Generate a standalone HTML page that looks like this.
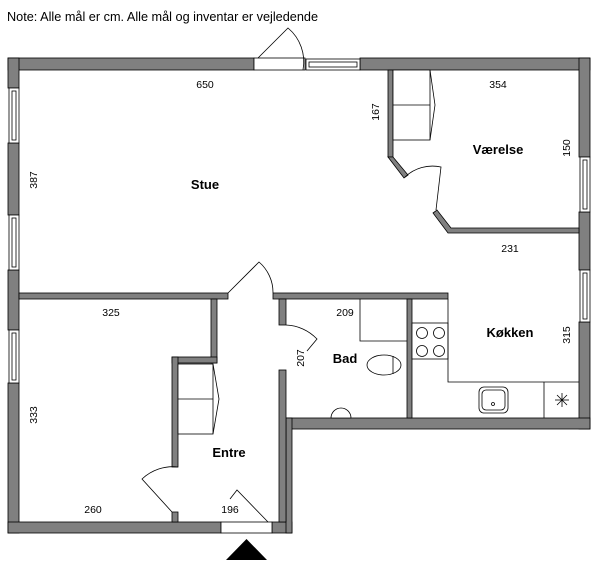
<!DOCTYPE html>
<html><head><meta charset="utf-8"><style>
html,body{margin:0;padding:0;background:#fff;}
svg{display:block;}
text{font-family:"Liberation Sans",sans-serif;fill:#000;}
.n{font-size:10.5px;text-anchor:middle;}
.l{font-size:13px;font-weight:bold;text-anchor:middle;}
</style></head><body>
<svg width="600" height="570" viewBox="0 0 600 570" xmlns="http://www.w3.org/2000/svg">
<text x="7" y="21" style="font-size:12.7px">Note: Alle mål er cm. Alle mål og inventar er vejledende</text>
<g fill="#808080" stroke="#000" stroke-width="0.8">
<rect x="8" y="58" width="246" height="12"/>
<rect x="360" y="58" width="230" height="12"/>
<rect x="8" y="58" width="11" height="30"/>
<rect x="8" y="143" width="11" height="72"/>
<rect x="8" y="270" width="11" height="60"/>
<rect x="8" y="383" width="11" height="150"/>
<rect x="579" y="58" width="11" height="99"/>
<rect x="579" y="212" width="11" height="58"/>
<rect x="579" y="322" width="11" height="107"/>
<rect x="8" y="522" width="213" height="11"/>
<rect x="272" y="522" width="20" height="11"/>
<rect x="286" y="418" width="304" height="11"/>
<rect x="286" y="418" width="6" height="115"/>
<rect x="388" y="70" width="5" height="87"/>
<polygon points="388,157 393,157 408,175 404,178"/>
<polygon points="433,213 437,210 451,228 579,228 579,233 448,233"/>
<rect x="19" y="293" width="209" height="6"/>
<rect x="273" y="293" width="175" height="6"/>
<rect x="211" y="299" width="6" height="64"/>
<rect x="172" y="357" width="45" height="6"/>
<rect x="172" y="357" width="6" height="110"/>
<rect x="172" y="512" width="6" height="10"/>
<rect x="279" y="299" width="7" height="26"/>
<rect x="279" y="370" width="7" height="152"/>
<rect x="407" y="299" width="5" height="119"/>
</g>
<g fill="#fff" stroke="#000" stroke-width="0.8">
<rect x="306" y="59" width="54" height="11"/><rect x="309" y="62" width="48" height="5"/>
<rect x="9" y="88" width="10" height="55"/><rect x="12" y="91" width="4" height="49"/>
<rect x="9" y="215" width="10" height="55"/><rect x="12" y="218" width="4" height="49"/>
<rect x="9" y="330" width="10" height="53"/><rect x="12" y="333" width="4" height="47"/>
<rect x="580" y="157" width="10" height="55"/><rect x="583" y="160" width="4" height="49"/>
<rect x="580" y="270" width="10" height="52"/><rect x="583" y="273" width="4" height="46"/>
<rect x="254" y="58" width="51" height="12"/>
<rect x="221" y="522" width="51" height="11"/>
<rect x="393" y="70" width="37" height="70"/><line x1="393" y1="105" x2="430" y2="105"/>
<polyline points="430,70 435,105 430,140" fill="none"/>
<rect x="178" y="364" width="35" height="70"/><line x1="178" y1="399" x2="213" y2="399"/>
<polyline points="213,364 219,399 213,434" fill="none"/>
<polyline points="360,299 360,341 407,341" fill="none"/>
<rect x="412" y="323" width="36" height="36"/>
<polyline points="448,299 448,382 579,382" fill="none"/>
<line x1="544" y1="382" x2="544" y2="418"/>
<circle cx="422" cy="333" r="5.5"/><circle cx="439" cy="333" r="5.5"/>
<circle cx="422" cy="351" r="5.5"/><circle cx="439" cy="351" r="5.5"/>
<rect x="479" y="387" width="29" height="26" rx="5"/><rect x="482" y="390" width="23" height="20" rx="4"/>
<circle cx="493" cy="404" r="1.5"/>
<ellipse cx="384" cy="365" rx="17" ry="10"/><line x1="393" y1="356" x2="393" y2="374"/>
<path d="M331,418 a10,10 0 1,1 20,0 z"/>
</g>
<g fill="none" stroke="#000" stroke-width="0.8">
<path d="M258,58 L288,28 A44,44 0 0 1 303,70"/>
<path d="M228,293 L259,262 A40,40 0 0 1 273,293"/>
<path d="M286,325 A45,45 0 0 1 317,339 L307,351"/>
<path d="M405,177 A40,40 0 0 1 441,167 L436,210"/>
<path d="M178,467 A45,45 0 0 0 142,479 L172,512"/>
<path d="M268,522 L237,490 L230,499"/>
<line x1="555" y1="400" x2="569" y2="400"/><line x1="562" y1="393" x2="562" y2="407"/>
<line x1="557" y1="395" x2="567" y2="405"/><line x1="567" y1="395" x2="557" y2="405"/>
</g>
<polygon points="226,560 267,560 246.5,539" fill="#000"/>
<text class="n" x="205" y="88">650</text>
<text class="n" x="498" y="88">354</text>
<text class="n" x="510" y="252">231</text>
<text class="n" x="111" y="316">325</text>
<text class="n" x="345" y="316">209</text>
<text class="n" x="93" y="513">260</text>
<text class="n" x="230" y="513">196</text>
<text class="n" transform="translate(379,112) rotate(-90)">167</text>
<text class="n" transform="translate(570,148) rotate(-90)">150</text>
<text class="n" transform="translate(37,180) rotate(-90)">387</text>
<text class="n" transform="translate(570,335) rotate(-90)">315</text>
<text class="n" transform="translate(304,358) rotate(-90)">207</text>
<text class="n" transform="translate(37,415) rotate(-90)">333</text>
<text class="l" x="205" y="189">Stue</text>
<text class="l" x="498" y="154">Værelse</text>
<text class="l" x="510" y="337">Køkken</text>
<text class="l" x="345" y="363">Bad</text>
<text class="l" x="229" y="457">Entre</text>
</svg>
</body></html>
